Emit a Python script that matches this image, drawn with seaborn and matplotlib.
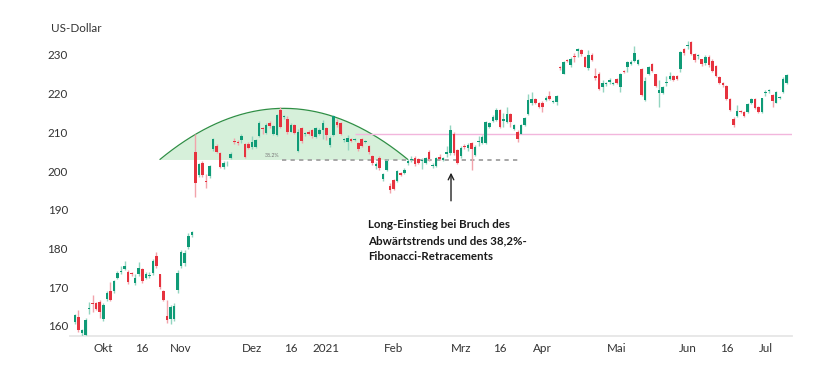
import matplotlib
matplotlib.use("Agg")
import matplotlib.pyplot as plt
import numpy as np
import pandas as pd
import seaborn as sns

# Daily OHLC prices (US-Dollar), Sept 2020 - July 2021
opens = [160.9, 162.4, 158.3, 157.6, 164.4, 165.9, 165.8, 166.2, 161.7, 166.9,
         169.1, 169.1, 172.5, 173.9, 174.8, 174.0, 173.5, 171.1, 173.4, 174.6,
         172.5, 172.8, 173.6, 178.0, 173.3, 169.0, 162.5, 161.7, 161.7, 169.2,
         175.4, 176.3, 180.4, 183.5, 204.8, 199.0, 202.2, 197.4, 198.7, 205.6,
         206.6, 204.6, 201.1, 201.7, 203.5, 207.8, 207.6, 208.0, 206.9, 206.9,
         206.1, 206.3, 209.1, 211.0, 209.9, 212.5, 209.7, 209.3, 215.8, 214.0,
         213.5, 210.2, 211.9, 205.3, 211.2, 209.5, 210.2, 210.6, 208.9, 209.7,
         210.6, 211.0, 206.7, 209.3, 212.8, 212.3, 208.0, 207.4, 208.2, 208.0,
         207.3, 208.2, 207.5, 206.6, 203.9, 201.3, 203.5, 197.9, 200.3, 196.2,
         197.7, 197.4, 199.4, 199.6, 202.0, 202.9, 203.3, 203.0, 202.5, 202.0,
         204.8, 201.3, 201.3, 203.7, 202.8, 204.5, 204.6, 209.7, 205.4, 204.0,
         206.5, 205.9, 207.2, 204.1, 207.5, 207.3, 207.3, 211.5, 213.0, 213.2,
         215.8, 213.0, 212.6, 214.7, 210.8, 210.2, 209.7, 211.9, 214.7, 217.5,
         218.5, 217.7, 217.7, 218.3, 219.4, 217.8, 217.8, 227.0, 225.2, 228.7,
         227.4, 229.8, 231.1, 231.3, 229.5, 226.5, 230.0, 224.6, 225.2, 221.6,
         222.4, 223.1, 222.5, 223.7, 221.6, 225.9, 226.8, 227.6, 228.5, 227.6,
         226.3, 218.3, 225.2, 227.6, 225.0, 220.2, 220.1, 222.7, 223.9, 224.5,
         224.5, 226.3, 231.5, 232.4, 233.4, 230.2, 229.7, 228.9, 227.8, 229.4,
         228.5, 227.1, 224.4, 222.7, 222.0, 218.6, 213.4, 214.2, 215.6, 215.3,
         215.3, 217.5, 218.5, 216.6, 215.3, 220.2, 220.6, 219.6, 217.7, 218.8,
         220.5, 222.8]
closes = [162.8, 158.9, 158.9, 161.5, 164.6, 165.6, 164.5, 163.6, 165.4, 168.6,
          166.8, 171.5, 173.8, 174.1, 175.5, 171.4, 173.3, 172.5, 174.9, 171.6,
          173.3, 173.0, 176.7, 175.5, 170.1, 166.8, 161.5, 164.9, 165.1, 173.8,
          179.0, 178.9, 183.2, 184.2, 196.8, 201.7, 199.0, 197.1, 201.3, 208.2,
          205.0, 201.1, 202.2, 201.9, 204.4, 207.4, 207.2, 209.1, 203.7, 206.0,
          207.6, 208.0, 212.5, 210.8, 211.9, 211.6, 211.6, 214.5, 211.5, 214.1,
          210.1, 211.9, 209.9, 210.0, 207.8, 209.7, 209.5, 209.1, 211.0, 210.6,
          212.3, 209.3, 208.5, 214.2, 211.9, 209.7, 208.1, 208.6, 207.8, 208.3,
          205.6, 206.5, 207.7, 204.8, 202.0, 201.8, 200.7, 199.2, 202.6, 195.1,
          195.3, 200.0, 199.0, 200.4, 202.7, 203.1, 201.8, 202.0, 202.7, 203.3,
          203.0, 201.6, 203.3, 203.1, 203.3, 205.0, 210.6, 204.6, 202.2, 205.9,
          206.1, 206.7, 205.6, 206.3, 207.7, 208.9, 212.6, 212.3, 214.0, 215.8,
          211.5, 213.4, 214.7, 212.6, 211.9, 208.2, 211.9, 213.6, 218.4, 218.5,
          217.7, 216.6, 216.5, 218.8, 218.7, 218.1, 219.4, 226.5, 228.1, 228.4,
          228.9, 229.4, 231.5, 230.2, 227.0, 230.0, 228.7, 224.1, 221.1, 222.7,
          222.6, 223.5, 222.7, 222.7, 225.0, 225.7, 228.3, 228.3, 230.4, 228.7,
          219.6, 223.3, 227.0, 225.9, 222.0, 220.9, 221.8, 222.8, 224.5, 223.5,
          223.8, 230.8, 230.4, 232.6, 230.2, 228.7, 229.9, 227.6, 229.4, 227.4,
          225.8, 224.5, 222.7, 222.2, 218.6, 215.8, 211.9, 215.6, 215.3, 214.3,
          217.3, 218.5, 216.4, 215.3, 218.8, 220.4, 220.8, 218.2, 220.3, 219.2,
          223.9, 224.8]
highs = [163.0, 164.1, 159.2, 162.0, 166.2, 168.0, 166.2, 166.6, 165.8, 169.0,
         171.4, 171.8, 174.2, 175.5, 176.8, 174.5, 174.0, 173.3, 176.6, 175.0,
         174.0, 174.0, 177.2, 179.0, 173.5, 169.3, 166.7, 165.3, 165.8, 174.5,
         179.5, 179.5, 184.0, 184.6, 209.7, 202.0, 202.5, 199.2, 201.6, 208.5,
         207.0, 204.9, 202.5, 202.5, 204.9, 208.6, 208.0, 209.6, 207.3, 207.5,
         209.1, 208.4, 213.0, 211.5, 212.3, 213.0, 212.0, 214.8, 216.5, 214.5,
         214.2, 212.3, 212.2, 210.8, 211.5, 210.0, 210.5, 210.9, 211.3, 211.0,
         213.2, 211.4, 209.0, 214.5, 213.5, 212.6, 208.5, 209.3, 208.5, 208.6,
         207.6, 208.5, 208.0, 206.8, 204.2, 202.4, 203.8, 199.6, 203.1, 197.0,
         198.0, 200.3, 199.7, 200.7, 203.0, 203.8, 204.0, 203.3, 203.5, 203.6,
         205.5, 202.0, 203.6, 204.5, 203.6, 206.5, 211.9, 210.0, 205.8, 206.5,
         207.0, 207.2, 207.5, 206.8, 209.0, 209.3, 213.0, 212.6, 214.5, 216.2,
         216.0, 214.9, 216.5, 215.0, 212.2, 210.5, 212.2, 213.9, 220.0, 220.3,
         218.8, 217.9, 218.0, 219.5, 220.8, 218.4, 219.7, 227.2, 228.5, 229.0,
         229.5, 230.4, 231.7, 231.5, 229.8, 231.2, 230.5, 226.5, 225.5, 223.5,
         223.0, 224.0, 223.0, 224.0, 225.3, 226.1, 228.5, 228.6, 232.3, 229.0,
         226.5, 224.2, 227.2, 227.9, 225.2, 223.5, 222.1, 224.5, 225.5, 224.8,
         224.8, 231.0, 231.8, 233.5, 233.6, 230.5, 230.3, 229.0, 230.0, 230.0,
         229.0, 227.4, 224.6, 223.0, 222.2, 218.8, 214.0, 217.0, 215.8, 215.6,
         217.6, 219.0, 218.8, 216.9, 219.0, 221.0, 221.3, 220.0, 220.6, 219.5,
         224.2, 225.1]
lows = [160.5, 158.5, 157.2, 157.4, 163.2, 163.6, 164.2, 162.0, 161.3, 166.5,
        166.4, 168.6, 172.0, 173.5, 174.5, 170.8, 172.8, 170.5, 173.0, 171.2,
        172.2, 172.5, 173.2, 175.0, 169.5, 166.5, 160.8, 160.5, 161.3, 168.5,
        175.0, 175.5, 180.0, 183.0, 193.4, 198.5, 198.5, 195.5, 198.3, 205.3,
        204.6, 200.7, 200.6, 201.3, 203.1, 206.9, 206.8, 207.2, 203.3, 205.7,
        205.8, 206.0, 208.7, 209.6, 209.5, 211.2, 209.3, 209.0, 211.0, 213.5,
        209.6, 210.0, 209.5, 204.8, 207.2, 209.0, 209.2, 208.6, 208.5, 209.4,
        208.2, 208.0, 206.3, 209.0, 211.5, 209.4, 207.6, 205.4, 207.5, 207.7,
        205.3, 206.2, 207.2, 204.5, 201.6, 200.5, 200.4, 197.5, 200.0, 194.4,
        195.0, 197.2, 198.7, 199.3, 201.5, 202.4, 201.3, 201.7, 200.5, 201.7,
        202.5, 200.8, 201.0, 202.8, 202.5, 203.7, 204.1, 204.2, 201.8, 203.5,
        205.8, 205.3, 200.3, 203.9, 206.5, 207.0, 207.0, 211.2, 212.6, 212.9,
        211.0, 211.5, 212.3, 211.5, 210.5, 207.5, 209.5, 211.6, 214.5, 217.0,
        217.4, 216.3, 215.3, 218.0, 218.4, 217.5, 217.0, 226.2, 225.0, 228.1,
        227.0, 228.1, 229.5, 229.8, 226.8, 226.2, 228.4, 223.5, 220.9, 220.5,
        222.0, 222.5, 222.2, 222.4, 220.3, 225.4, 225.7, 227.3, 228.2, 227.3,
        219.3, 218.1, 224.8, 225.5, 221.7, 216.5, 219.8, 222.0, 223.5, 223.2,
        223.5, 225.5, 230.0, 231.5, 230.0, 228.2, 229.0, 227.2, 227.5, 227.0,
        225.5, 224.3, 222.4, 221.8, 218.3, 215.5, 211.5, 214.0, 215.1, 214.0,
        215.0, 217.2, 216.1, 215.1, 215.1, 219.5, 220.1, 216.5, 217.5, 218.5,
        220.2, 222.5]

# trading calendar
start_date = "2020-09-21"
holidays = ["2020-11-26", "2020-12-24", "2020-12-25", "2021-01-01", "2021-01-18",
            "2021-02-15", "2021-04-02", "2021-05-31", "2021-07-05"]
tick_dates = ["2020-10-01", "2020-10-16", "2020-11-02", "2020-12-01", "2020-12-16",
              "2021-01-04", "2021-02-01", "2021-03-01", "2021-03-16", "2021-04-01",
              "2021-05-03", "2021-06-01", "2021-06-16", "2021-07-01"]
tick_labels = ["Okt", "16", "Nov", "Dez", "16", "2021", "Feb", "Mrz", "16", "Apr",
               "Mai", "Jun", "16", "Jul"]
y_ticks = [160, 170, 180, 190, 200, 210, 220, 230]

# annotation levels
fib_level = 202.85      # 38.2% retracement
resistance = 209.5      # pink line
arc_base, arc_peak = 203.0, 216.2

bday = pd.offsets.CustomBusinessDay(holidays=holidays)
dates = pd.date_range(start_date, periods=len(opens), freq=bday)
df = pd.DataFrame({"date": dates, "open": opens, "high": highs,
                   "low": lows, "close": closes})
df["idx"] = np.arange(len(df))
df["up"] = df["close"] >= df["open"]

GREEN, RED = "#0f9b77", "#e6323e"
GREEN_W, RED_W = "#93d5c0", "#f2a3ab"

sns.set_theme(style="white")
plt.rcParams["font.family"] = ["Lato", "DejaVu Sans"]

fig = plt.figure(figsize=(8.4, 3.74), dpi=100)
ax = fig.add_axes([70 / 840, 38 / 374, 722 / 840, 304.3 / 374])

# Fibonacci arc (parabola)
arc_x = np.linspace(24, 94, 200)
arc_y = arc_base + (arc_peak - arc_base) * (1 - ((arc_x - 59) / 35) ** 2)
ax.fill_between(arc_x, arc_base, arc_y, color="#d6f0da", lw=0, zorder=1)
ax.plot(arc_x, arc_y, color="#2f8f45", lw=0.9, zorder=2)

# resistance and retracement lines
ax.hlines(resistance, 79, 202.5, color="#f2b6dc", lw=1.0, zorder=2)
ax.hlines(fib_level, 58.5, 125, color="#a6a6a6", lw=1.4,
          linestyles=(0, (2.2, 2.2)), zorder=2)
ax.text(53.5, fib_level + 0.6, "38.2%", fontsize=3.8, color="#777777",
        va="bottom", ha="left", zorder=3)

# candles
wick_c = np.where(df["up"], GREEN_W, RED_W)
body_c = np.where(df["up"], GREEN, RED)
ax.vlines(df["idx"], df["low"], df["high"], colors=wick_c, lw=1.0, zorder=3)
body_h = np.maximum((df["close"] - df["open"]).abs(), 0.25)
body_b = np.minimum(df["open"], df["close"])
ax.bar(df["idx"], body_h, bottom=body_b, width=0.72, color=body_c,
       linewidth=0, zorder=4)

# arrow + comment
ax.annotate("", xy=(106.2, 200.3), xytext=(106.2, 191.6),
            arrowprops=dict(arrowstyle="->", color="#222222", lw=1.0,
                            mutation_scale=10), zorder=5)
ax.text(82.7, 187.7,
        "Long-Einstieg bei Bruch des\nAbwärtstrends und des 38,2%-\nFibonacci-Retracements",
        fontsize=8.3, fontweight="bold", color="#1a1a1a", ha="left", va="top",
        linespacing=1.6)

ax.set_xlim(-1.4, 202.5)
ax.set_ylim(157.4, 236)
tick_pos = dates.get_indexer(pd.to_datetime(tick_dates))
ax.set_xticks(tick_pos)
ax.set_xticklabels(tick_labels)
ax.set_yticks(y_ticks)
ax.tick_params(axis="x", length=0, pad=5, labelsize=8.4, labelcolor="#333333")
ax.tick_params(axis="y", length=0, pad=1.5, labelsize=8.4, labelcolor="#333333")
for side in ["top", "right", "left"]:
    ax.spines[side].set_visible(False)
ax.spines["bottom"].set_color("#e6e6e6")
ax.spines["bottom"].set_linewidth(1.3)
ax.grid(False)

fig.text(51 / 840, 1 - 28 / 374, "US-Dollar", fontsize=8.4, color="#333333",
         ha="left", va="center")

fig.savefig("out.png", dpi=100)
